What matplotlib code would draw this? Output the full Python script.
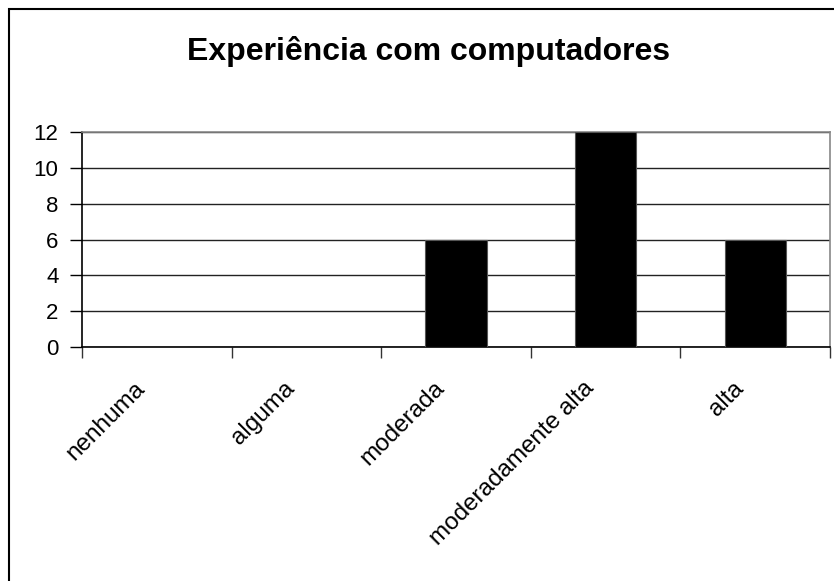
import numpy as np
import matplotlib.pyplot as plt
from matplotlib.patches import Rectangle
from matplotlib.transforms import offset_copy

# categories and counts
categorias = ["nenhuma", "alguma", "moderada", "moderadamente alta", "alta"]
contagens = [0, 0, 6, 12, 6]
y_ticks = [0, 2, 4, 6, 8, 10, 12]
titulo = "Experiência com computadores"

plt.rcParams['font.family'] = ['Liberation Sans', 'DejaVu Sans']

fig = plt.figure(figsize=(8.34, 5.81), dpi=100)
ax = fig.add_axes([82/834, 1 - 347/581, (830 - 82)/834, (347 - 132)/581])

x = np.arange(len(categorias))
ax.bar(x, contagens, width=0.41, color='black', edgecolor='#555555',
       linewidth=0.8, zorder=3)

# horizontal gridlines like Excel
ax.set_ylim(0, 12)
ax.set_yticks(y_ticks)
ax.yaxis.grid(True, color='#222222', linewidth=1.0, zorder=1)
ax.set_xlim(-0.5, len(categorias) - 0.5)

# x ticks sit between categories
ax.set_xticks(np.arange(-0.5, len(categorias)))
ax.set_xticklabels([])
ax.tick_params(axis='x', length=8, width=1, direction='out', color='#333333')
ax.tick_params(axis='y', length=9, width=1, direction='out', labelsize=16,
               pad=8)

# rotated category labels, ending just left of each category centre
lbl_tr = offset_copy(ax.get_xaxis_transform(), fig=fig, x=-15, y=-38,
                     units='dots')
for xi, nome in zip(x, categorias):
    ax.text(xi, 0, nome, transform=lbl_tr, rotation=45,
            rotation_mode='anchor', ha='right', va='center', fontsize=17.5)

ax.spines['left'].set_color('black')
ax.spines['bottom'].set_color('black')
ax.spines['top'].set_color('#888888')
ax.spines['right'].set_color('#888888')
for s in ax.spines.values():
    s.set_linewidth(1.2)

fig.text(429/834, 1 - 60/581, titulo, ha='center', va='baseline',
         fontsize=23, fontweight='bold')

# outer chart frame (only left and top edges fall inside the image)
fig.patches.append(Rectangle((9/834, -0.05), 1.1, 1 - 9/581 + 0.05,
                             transform=fig.transFigure, fill=False,
                             edgecolor='black', linewidth=1.5))

fig.savefig("out.png", dpi=100)
